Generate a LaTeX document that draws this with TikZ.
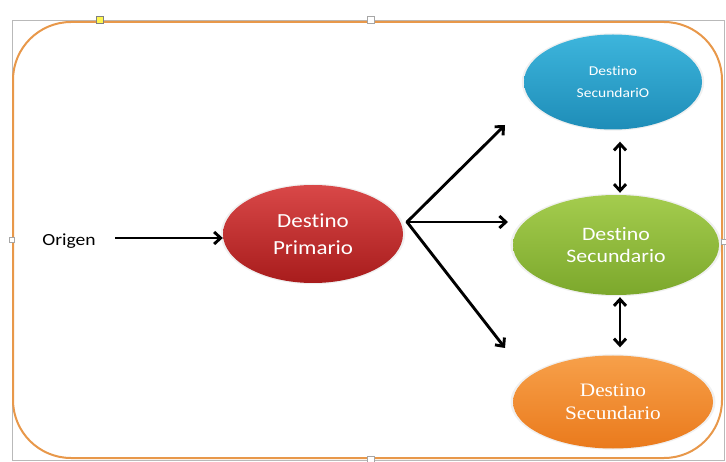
\documentclass[tikz,border=0pt]{standalone}
\usepackage{fontspec}
\setmainfont{Carlito}[FakeStretch=1.15,Ligatures=NoCommon]
\newfontfamily\serifface{Liberation Serif}[FakeStretch=1.12]
\usetikzlibrary{arrows.meta,shapes.geometric,shadows}
\definecolor{frameorange}{HTML}{E8984A}
\definecolor{redtop}{HTML}{D94848}
\definecolor{redbot}{HTML}{A81C1C}
\definecolor{bluetop}{HTML}{3DB5DC}
\definecolor{bluebot}{HTML}{1E8DB8}
\definecolor{greentop}{HTML}{A4CC4E}
\definecolor{greenbot}{HTML}{7CA82C}
\definecolor{orangetop}{HTML}{F7A04A}
\definecolor{orangebot}{HTML}{EA7A1C}
\begin{document}
\begin{tikzpicture}[x=1pt,y=-1pt,
  blob/.style={ellipse, inner sep=0pt, text=white, align=center,
    general shadow={shadow scale=1.025, fill=black, opacity=0.06}},
  arr/.style={line width=2.9pt, -{Straight Barb[length=6.5pt,width=12pt]}},
  darr/.style={line width=2.9pt, {Straight Barb[length=6.5pt,width=12pt]}-{Straight Barb[length=6.5pt,width=12pt]}},
  handle/.style={draw=gray!70, fill=white, line width=0.5pt, minimum size=7pt, inner sep=0pt}
]
\useasboundingbox (0,0) rectangle (726,462);
\fill[white] (0,0) rectangle (726,462);
% selection frame
\draw[gray!55, line width=0.8pt] (12,20) rectangle (724,460);
% orange rounded frame
\draw[frameorange, line width=2pt, rounded corners=58pt] (13,22) rectangle (722,458);
% handles
\node[handle, fill=yellow!70!white, draw=gray] (h1) at (100,20) {};
\node[handle] (h2) at (371,20) {};
\node[handle] (h3) at (371,460) {};
\node[handle, minimum size=5pt] (h4) at (12,240) {};
\node[handle, minimum size=5pt] (h5) at (724,242) {};
% nodes
\node[font=\fontsize{17}{20}\selectfont] (orig) at (69,241) {Origen};
\node[blob, minimum width=180pt, minimum height=98pt, top color=redtop, bottom color=redbot,
  font=\fontsize{20}{27}\selectfont] (prim) at (313,234) {Destino\\Primario};
\node[blob, minimum width=178pt, minimum height=95pt, top color=bluetop, bottom color=bluebot,
  font=\fontsize{13.5}{22}\selectfont] (s1) at (613,82) {Destino\\SecundariO};
\node[blob, minimum width=206pt, minimum height=100pt, top color=greentop, bottom color=greenbot,
  font=\fontsize{19}{22}\selectfont] (s2) at (616,245) {Destino\\Secundario};
\node[blob, minimum width=200pt, minimum height=93pt, top color=orangetop, bottom color=orangebot,
  font=\serifface\fontsize{19}{23}\selectfont] (s3) at (613,402) {Destino\\Secundario};
% connectors
\coordinate (o1) at (115,238);
\coordinate (fork) at (407,222);
\coordinate (t1) at (505,125);
\coordinate (t2) at (508,222);
\coordinate (t3) at (505,348);
\draw[arr] (o1) -- (prim.west |- o1);
\draw[arr, line cap=round] (fork) -- (t1);
\draw[arr] (fork) -- (t2);
\draw[arr, line cap=round] (fork) -- (t3);
\draw[darr] ([xshift=7pt,yshift=-12pt]s1.south) -- ([xshift=4pt,yshift=2pt]s2.north);
\draw[darr] ([xshift=4pt,yshift=-2pt]s2.south) -- ([xshift=7pt,yshift=8pt]s3.north);
\end{tikzpicture}
\end{document}
